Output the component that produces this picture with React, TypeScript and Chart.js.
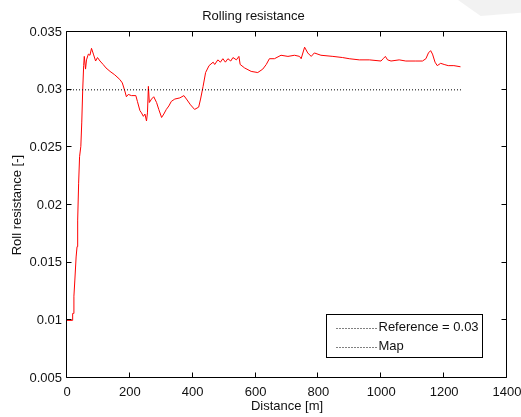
import React, { useEffect, useRef } from "react";
import { Chart, registerables } from "chart.js";

Chart.register(...registerables);

const chartTitle = "Rolling resistance";
const xAxisTitle = "Distance [m]";
const yAxisTitle = "Roll resistance [-]";
const legendLabels = ["Reference = 0.03", "Map"];

const distance = [
  0, 17, 18, 20, 22, 25, 29, 32, 34, 37, 40, 44, 47, 50, 53, 55, 59, 62, 68, 73,
  78, 84, 91, 97, 105, 115, 124, 137, 152, 168, 176, 184, 189, 195, 205, 219,
  224, 232, 237, 243, 248, 253, 256, 259, 262, 269, 276, 285, 292, 301, 308,
  316, 324, 332, 343, 359, 372, 380, 393, 406, 419, 425, 433, 441, 452, 465,
  470, 480, 488, 496, 504, 512, 521, 528, 539, 547, 551, 565, 586, 607, 623,
  634, 644, 660, 681, 703, 724, 740, 745, 756, 766, 777, 787, 808, 846, 877,
  898, 930, 962, 999, 1006, 1013, 1020, 1031, 1057, 1078, 1110, 1131, 1142,
  1150, 1157, 1163, 1171, 1178, 1189, 1200, 1213, 1231, 1252,
];

const rollingResistance = [
  0.01, 0.01, 0.0106, 0.0106, 0.0121, 0.0135, 0.0155, 0.0164, 0.0187, 0.0219,
  0.0242, 0.0251, 0.0272, 0.03, 0.0321, 0.0329, 0.0318, 0.0326, 0.0331, 0.033,
  0.0336, 0.0331, 0.0325, 0.0328, 0.0325, 0.0322, 0.0319, 0.0316, 0.0313,
  0.0309, 0.0306, 0.0299, 0.0294, 0.0296, 0.0295, 0.0295, 0.029, 0.0282, 0.028,
  0.0277, 0.0279, 0.0273, 0.028, 0.0303, 0.0289, 0.0292, 0.0294, 0.0289,
  0.0283, 0.0276, 0.0279, 0.0283, 0.0286, 0.029, 0.0292, 0.0293, 0.0295,
  0.0292, 0.0287, 0.0283, 0.0285, 0.0292, 0.0303, 0.0315, 0.0321, 0.0324,
  0.0322, 0.0326, 0.0324, 0.0327, 0.0324, 0.0327, 0.0325, 0.0328, 0.0326,
  0.0329, 0.0322, 0.0319, 0.0316, 0.0315, 0.0318, 0.0322, 0.0327, 0.0327,
  0.033, 0.0329, 0.033, 0.0329, 0.0327, 0.0337, 0.0332, 0.0329, 0.0332, 0.033,
  0.0329, 0.0328, 0.0327, 0.0326, 0.0326, 0.0325, 0.0327, 0.0329, 0.0326,
  0.0325, 0.0326, 0.0325, 0.0325, 0.0325, 0.0327, 0.0332, 0.0334, 0.0331,
  0.0324, 0.0321, 0.0323, 0.0322, 0.0321, 0.0321, 0.032,
];

const referenceDistance = [0, 1254];
const referenceValue = [0.03, 0.03];

const xMin = 0;
const xMax = 1400;
const xStep = 200;
const yMin = 0.005;
const yMax = 0.035;
const yStep = 0.005;

const FONT = "'Liberation Sans', Arial, Helvetica, sans-serif";
const TEXT = "#111";

const boxPlugin = {
  id: "matlabBox",
  afterDatasetsDraw(chart: any) {
    const { ctx, chartArea: a, scales } = chart;
    const L = Math.round(a.left) - 0.5;
    const R = Math.round(a.right) - 0.5;
    const T = Math.round(a.top) - 0.5;
    const B = Math.round(a.bottom) - 0.5;
    ctx.save();
    ctx.strokeStyle = "#000";
    ctx.lineWidth = 1;
    ctx.beginPath();
    ctx.rect(L, T, R - L, B - T);
    ctx.stroke();
    const tl = 5;
    ctx.beginPath();
    for (const t of scales.x.ticks) {
      const px = Math.round(scales.x.getPixelForValue(t.value)) - 0.5;
      ctx.moveTo(px, B);
      ctx.lineTo(px, B - tl);
      ctx.moveTo(px, T);
      ctx.lineTo(px, T + tl);
    }
    for (const t of scales.y.ticks) {
      const py = Math.round(scales.y.getPixelForValue(t.value)) - 0.5;
      ctx.moveTo(L, py);
      ctx.lineTo(L + tl, py);
      ctx.moveTo(R, py);
      ctx.lineTo(R - tl, py);
    }
    ctx.stroke();
    ctx.restore();
  },
};

const legendPlugin = {
  id: "matlabLegend",
  afterDraw(chart: any) {
    const { ctx, chartArea: a } = chart;
    const w = 156;
    const h = 43;
    const x0 = Math.round(a.right) - 24 - w - 0.5;
    const y0 = Math.round(a.bottom) - 20 - h - 0.5;
    ctx.save();
    ctx.fillStyle = "#fff";
    ctx.fillRect(x0, y0, w, h);
    ctx.strokeStyle = "#000";
    ctx.lineWidth = 1;
    ctx.strokeRect(x0, y0, w, h);
    ctx.font = `13px ${FONT}`;
    ctx.fillStyle = TEXT;
    ctx.textBaseline = "middle";
    ctx.textAlign = "left";
    const rows = [y0 + 13, y0 + 32];
    legendLabels.forEach((label, i) => {
      const ry = Math.round(rows[i]) + 0.5;
      ctx.setLineDash([1, 2]);
      ctx.beginPath();
      ctx.moveTo(x0 + 10, ry);
      ctx.lineTo(x0 + 51, ry);
      ctx.stroke();
      ctx.setLineDash([]);
      ctx.fillText(label, x0 + 52, rows[i]);
    });
    ctx.restore();
  },
};

function fmt(v: number) {
  return String(parseFloat(v.toFixed(4)));
}

export default function App() {
  const ref = useRef<HTMLCanvasElement | null>(null);

  useEffect(() => {
    const canvas = ref.current;
    if (!canvas) return;
    const chart = new Chart(canvas, {
      type: "line",
      data: {
        datasets: [
          {
            label: legendLabels[0],
            data: referenceDistance.map((x, i) => ({ x, y: referenceValue[i] })),
            borderColor: "#000",
            borderWidth: 1,
            borderDash: [1, 2],
            pointRadius: 0,
            fill: false,
            tension: 0,
          },
          {
            label: legendLabels[1],
            data: distance.map((x, i) => ({ x, y: rollingResistance[i] })),
            borderColor: "#ff0000",
            borderWidth: 1,
            pointRadius: 0,
            fill: false,
            tension: 0,
          },
        ],
      },
      options: {
        responsive: false,
        animation: false,
        devicePixelRatio: 1,
        layout: { padding: { left: 0, right: 14, top: 0, bottom: 0 } },
        plugins: {
          legend: { display: false },
          tooltip: { enabled: false },
          title: {
            display: true,
            text: chartTitle,
            color: TEXT,
            font: { family: FONT, size: 13, weight: "normal" },
            padding: { top: 9, bottom: 7.6 },
          },
        },
        scales: {
          x: {
            type: "linear",
            min: xMin,
            max: xMax,
            grid: { display: false, drawTicks: false },
            border: { display: false },
            ticks: {
              stepSize: xStep,
              color: TEXT,
              font: { family: FONT, size: 13 },
              padding: 7,
              maxRotation: 0,
              callback: (v: any) => fmt(Number(v)),
            },
            title: {
              display: true,
              text: xAxisTitle,
              color: TEXT,
              font: { family: FONT, size: 13 },
              padding: { top: 0, bottom: 3 },
            },
            afterFit: (s: any) => {
              s.height = 39;
              s.paddingLeft = 0;
              s.paddingRight = 0;
            },
          },
          y: {
            type: "linear",
            min: yMin,
            max: yMax,
            grid: { display: false, drawTicks: false },
            border: { display: false },
            ticks: {
              stepSize: yStep,
              color: TEXT,
              font: { family: FONT, size: 13 },
              padding: 5,
              callback: (v: any) => fmt(Number(v)),
            },
            title: {
              display: true,
              text: yAxisTitle,
              color: TEXT,
              font: { family: FONT, size: 13 },
              padding: { top: 10, bottom: 0 },
            },
            afterFit: (s: any) => {
              s.width = 67;
              s.paddingTop = 0;
              s.paddingBottom = 0;
            },
          },
        },
      },
      plugins: [boxPlugin, legendPlugin],
    });
    return () => chart.destroy();
  }, []);

  return (
    <div style={{ position: "fixed", left: 0, top: 0, width: 521, height: 417, background: "#fff" }}>
      <canvas ref={ref} width={521} height={417} style={{ display: "block" }} />
      <div
        style={{
          position: "absolute",
          left: 458,
          top: 0,
          width: 63,
          height: 16,
          background: "#f2f2f2",
          clipPath: "polygon(0 0, 100% 0, 100% 80%, 36% 100%)",
          pointerEvents: "none",
        }}
      />
    </div>
  );
}
